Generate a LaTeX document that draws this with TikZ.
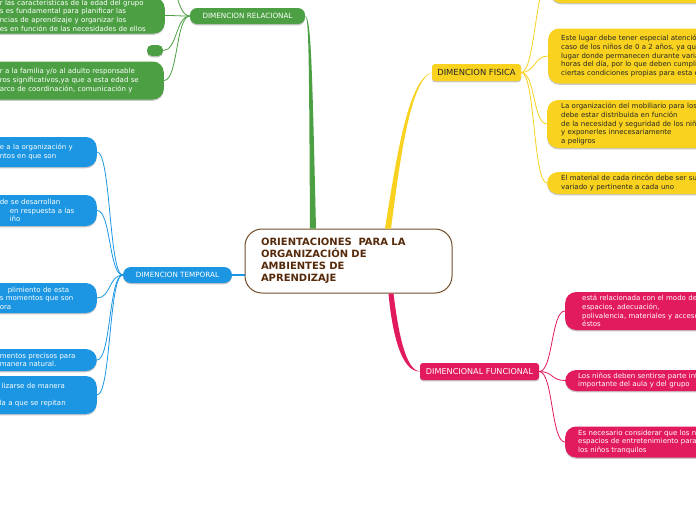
\documentclass[tikz,border=0pt]{standalone}
\usepackage{fontspec}
\setmainfont{DejaVu Sans}
\usepackage{tikz}
\usetikzlibrary{positioning, shadows}

\definecolor{relgreen}{RGB}{76,160,67}
\definecolor{fisyellow}{RGB}{248,210,30}
\definecolor{tempblue}{RGB}{28,150,226}
\definecolor{funpink}{RGB}{226,26,94}
\definecolor{cenbrown}{RGB}{115,76,40}
\definecolor{centext}{RGB}{86,42,10}

\begin{document}
\begin{tikzpicture}[
    x=1pt, y=-1pt,
    every node/.style={inner ysep=0pt},
    boxshadow/.style={drop shadow={shadow xshift=0pt, shadow yshift=-1.3pt, opacity=0.22, fill=black}},
    central/.style={rectangle, rounded corners=17pt, draw=cenbrown, line width=1pt, fill=white, text width=175pt, align=left, inner xsep=16pt, minimum width=207pt, minimum height=64pt, font=\fontsize{10}{12}\selectfont\bfseries, text=centext},
    branch/.style={rectangle, boxshadow, align=center, inner xsep=2pt, minimum height=16pt},
    leftsub/.style={rectangle, boxshadow, rounded corners=11pt, font=\fontsize{7}{8.6}\selectfont, align=left, anchor=east, text=white},
    rightsub/.style={rectangle, boxshadow, rounded corners=11pt, font=\fontsize{7}{8.6}\selectfont, align=left, anchor=west, text width=220pt},
    leftlink/.style={line width=0.8pt, out=180, in=0, distance=14pt},
    rightlink/.style={line width=0.8pt, out=0, in=180, distance=14pt},
]
\useasboundingbox (0,0) rectangle (696,520);
\fill[white] (0,0) rectangle (696,520);
\clip (0,0) rectangle (696,520);

% centre
\node[central] (cen) at (348.5,261) {ORIENTACIONES\ \ PARA LA\\ORGANIZACIÓN DE\\AMBIENTES DE\\APRENDIZAJE};

% main branches
\node[branch, fill=relgreen, text=white, minimum width=115pt, rounded corners=7pt, font=\fontsize{7.2}{8}\selectfont] (rel) at (247.5,16) {DIMENCION RELACIONAL};
\node[branch, fill=tempblue, text=white, minimum width=109pt, rounded corners=8pt, font=\fontsize{7.2}{8}\selectfont] (temp) at (177.5,275) {DIMENCION TEMPORAL};
\node[branch, fill=fisyellow, text=black!85, minimum width=89pt, minimum height=17pt, rounded corners=3pt, font=\fontsize{8.4}{9}\selectfont] (fis) at (476.5,72.5) {DIMENCION FISICA};
\node[branch, fill=funpink, text=white, minimum width=119pt, minimum height=17pt, rounded corners=3pt, font=\fontsize{8.1}{9}\selectfont] (fun) at (479.5,371.5) {DIMENCIONAL FUNCIONAL};

\fill[relgreen] (rel.east) .. controls (309,18) and (309,60) .. ([xshift=-38.5pt]cen.north) -- ([xshift=-32.5pt]cen.north) .. controls (312,60) and (311,18) .. (rel.east);
\fill[fisyellow] ([xshift=36.5pt]cen.north) .. controls (396,160) and (408,79) .. (fis.west) .. controls (410,81) and (400,160) .. ([xshift=42.5pt]cen.north) -- cycle;
\fill[funpink] ([xshift=40pt]cen.south) .. controls (392,332) and (401,372) .. (fun.west) .. controls (405,370) and (398,330) .. ([xshift=45pt]cen.south) -- cycle;
\draw[tempblue, line width=2pt] ([yshift=-14pt]cen.west) -- (temp.east);

% relacional
\coordinate (g0) at (163,-26);
\node[leftsub, fill=relgreen, text width=149pt, inner xsep=16pt, minimum height=36pt] (g1) at (165,15.5) {r las caracteristicas de la edad del grupo\\s es fundamental para planificar las\\ncias de aprendizaje y organizar los\\es en función de las necesidades de ellos};
\node[rectangle, boxshadow, fill=relgreen, rounded corners=5pt, minimum width=16pt, minimum height=11pt, inner xsep=0pt] (g2) at (155,50.5) {};
\node[leftsub, fill=relgreen, text width=148pt, inner xsep=16pt, minimum height=38pt] (g3) at (164,80.5) {r a la familia y/o al adulto responsable\\ros significativos,ya que a esta edad se\\arco de coordinación, comunicación y};

\draw[leftlink, relgreen] (rel.west) to (g0);
\draw[leftlink, relgreen] (rel.west) to (g1.east);
\draw[leftlink, relgreen] (rel.west) to (g2.east);
\draw[leftlink, relgreen] (rel.west) to (g3.east);

% temporal
\node[leftsub, fill=tempblue, text width=80pt, inner xsep=17pt, minimum height=30pt] (b1) at (97,152) {e a la organización y\\ntos en que son};
\node[leftsub, fill=tempblue, text width=80pt, inner xsep=17pt, minimum height=31pt] (b2) at (97,210.5) {de se desarrollan\\\hspace*{10pt}en respuesta a las\\\hspace*{10pt}iño};
\node[leftsub, fill=tempblue, text width=80pt, inner xsep=17pt, minimum height=30pt] (b3) at (97,298) {\hspace*{8pt}plimiento de esta\\s momentos que son\\ora};
\node[leftsub, fill=tempblue, text width=80pt, inner xsep=17pt, minimum height=22pt] (b4) at (97,360) {mentos precisos para\\manera natural.};
\node[leftsub, fill=tempblue, text width=80pt, inner xsep=17pt, minimum height=38pt] (b5) at (97,395) {\hspace*{2pt}lizarse de manera\\\mbox{}\\la a que se repitan};

\draw[leftlink, tempblue] (temp.west) to (b1.east);
\draw[leftlink, tempblue] (temp.west) to (b2.east);
\draw[leftlink, tempblue] (temp.west) to (b3.east);
\draw[leftlink, tempblue] (temp.west) to (b4.east);
\draw[leftlink, tempblue] (temp.west) to (b5.east);

% fisica
\node[rightsub, fill=fisyellow, inner xsep=13pt, minimum height=56pt] (y0) at (550,-25) {};
\node[rightsub, fill=fisyellow, text=black!85, inner xsep=13pt, minimum height=55pt] (y1) at (548,56) {Este lugar debe tener especial atenció\\caso de los niños de 0 a 2 años, ya qu\\lugar donde permanecen durante varia\\horas del día, por lo que deben cumpli\\ciertas condiciones propias para esta e};
\node[rightsub, fill=fisyellow, text=black!85, inner xsep=14pt, minimum height=48pt] (y2) at (547,124) {La organización del mobiliario para los\\debe estar distribuida en función\\de la necesidad y seguridad de los niñ\\y exponerles innecesariamente\\a peligros};
\node[rightsub, fill=fisyellow, text=black!85, inner xsep=14pt, minimum height=22pt] (y3) at (547,183) {El material de cada rincón debe ser su\\variado y pertinente a cada uno};

\draw[rightlink, fisyellow] (fis.east) to (y0.west);
\draw[rightlink, fisyellow] (fis.east) to (y1.west);
\draw[rightlink, fisyellow] (fis.east) to (y2.west);
\draw[rightlink, fisyellow] (fis.east) to (y3.west);

% funcional
\node[rightsub, fill=funpink, text=white, inner xsep=17pt, minimum height=38pt] (p1) at (565,311) {está relacionada con el modo de\\espacios, adecuación,\\polivalencia, materiales y acceso\\éstos};
\node[rightsub, fill=funpink, text=white, inner xsep=13pt, minimum height=21pt] (p2) at (565,380.5) {Los niños deben sentirse parte int\\importante del aula y del grupo};
\node[rightsub, fill=funpink, text=white, inner xsep=13pt, minimum height=31pt] (p3) at (565,442) {Es necesario considerar que los ni\\espacios de entretenimiento para\\los niños tranquilos};

\draw[rightlink, funpink] (fun.east) to (p1.west);
\draw[rightlink, funpink] (fun.east) to (p2.west);
\draw[rightlink, funpink] (fun.east) to (p3.west);

\end{tikzpicture}
\end{document}
